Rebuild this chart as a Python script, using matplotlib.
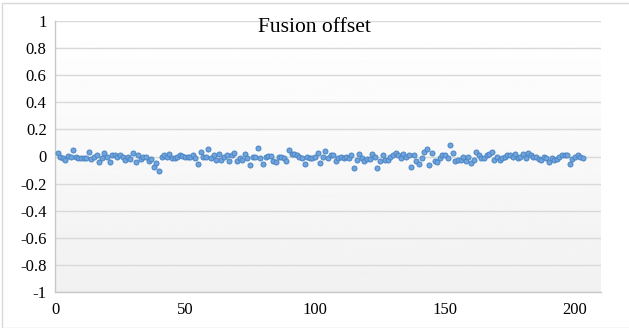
import matplotlib.pyplot as plt
import numpy as np
from matplotlib.patches import Rectangle

# wartosci (indeks 1..N)
offset = [
    0.025, 0, -0.013, -0.025, 0.005, 0, 0.05, 0, -0.008, -0.008,
    -0.008, -0.008, 0.033, -0.018, -0.003, 0.008, -0.038, -0.013, 0.025, -0.005,
    -0.038, 0.013, 0.013, -0.005, 0.013, -0.005, -0.025, 0, -0.018, 0.025,
    -0.043, 0.013, -0.018, -0.003, 0, -0.033, -0.018, -0.075, -0.05, -0.108,
    0, 0.008, 0, 0.018, -0.013, -0.013, 0, 0.013, 0.005, -0.003,
    -0.003, 0, 0.013, -0.008, -0.058, 0.03, -0.003, -0.003, 0.058, -0.008,
    0.008, -0.023, 0.018, -0.025, -0.003, 0.013, -0.033, 0.008, 0.025, -0.033,
    -0.008, -0.028, 0.018, -0.008, -0.063, 0, 0, 0.063, -0.008, -0.053,
    0, 0.003, 0.003, -0.03, -0.038, 0, -0.003, -0.013, -0.033, 0.045,
    0.018, 0.018, 0.008, 0, -0.013, -0.058, -0.003, -0.013, -0.008, -0.003,
    0.025,
    -0.045, 0, 0.038, -0.008, 0.008, 0.013, -0.033, -0.008, 0, -0.013,
    0, -0.008, 0.013, -0.083, -0.025, 0.018, -0.008, -0.033, -0.018, -0.018,
    0.018, 0, -0.083, -0.033, 0.013, -0.025, -0.025, 0, 0.013, 0.023,
    0.008, -0.008, 0.018, 0, 0.013, -0.075, 0.013, -0.033, -0.053, -0.008,
    0.033, 0.058, -0.063, 0.025, -0.033, -0.043, -0.008, 0.008, 0.008, -0.008,
    0.088, 0.025, -0.033, -0.025, -0.025, 0, -0.033, 0, -0.05, -0.025,
    0.033, 0.008, -0.008, -0.013, 0.013, 0.018, 0.033, -0.025, 0, -0.028,
    -0.013, 0, 0.013, 0.008, 0, 0.018, -0.008, 0, 0.018, -0.013,
    0.023, 0.008, 0, 0, -0.018, -0.023, 0, -0.013, -0.038, -0.013,
    -0.028, -0.018, 0, 0.013, 0.013, 0.013, -0.058, -0.018, 0, 0.008,
    0, -0.008,
]
x_ticks = [0, 50, 100, 150, 200]
y_ticks = [-1, -0.8, -0.6, -0.4, -0.2, 0, 0.2, 0.4, 0.6, 0.8, 1]
y_labels = ['-1', '-0.8', '-0.6', '-0.4', '-0.2', '0', '0.2', '0.4', '0.6', '0.8', '1']

plt.rcParams['font.family'] = ['Liberation Serif', 'DejaVu Serif']

fig = plt.figure(figsize=(6.29, 3.28), dpi=100)
ax = fig.add_axes([55 / 629, 1 - 292 / 328, (601 - 55) / 629, (292 - 21) / 328])

# tlo z gradientem (bialy -> jasnoszary)
grad = np.linspace(1.0, 0.945, 256).reshape(-1, 1)
ax.imshow(grad, extent=[0, 210, -1, 1], aspect='auto', cmap='gray',
          vmin=0, vmax=1, zorder=0, origin='upper')

x = np.arange(1, len(offset) + 1)
ax.plot(x, offset, linestyle='none', marker='o', markersize=3.6,
        markerfacecolor='#6fa3dc', markeredgecolor='#4a84c4', markeredgewidth=0.7,
        zorder=3)

ax.set_xlim(0, 210)
ax.set_ylim(-1, 1)
ax.set_xticks(x_ticks)
ax.set_yticks(y_ticks)
ax.set_yticklabels(y_labels)
ax.tick_params(length=0, labelsize=12, colors='black')
ax.tick_params(axis='x', pad=7)
ax.tick_params(axis='y', pad=6)
ax.grid(axis='y', color='#d9d9d9', linewidth=1.0, zorder=1)
ax.set_axisbelow(True)
for s in ['top', 'right']:
    ax.spines[s].set_visible(False)
for s in ['left', 'bottom']:
    ax.spines[s].set_color('#c8c8c8')
    ax.spines[s].set_linewidth(1.0)

fig.text(0.5, 1 - 28 / 328, 'Fusion offset', ha='center', va='center', fontsize=15.5)

# ramka wokol wykresu
fig.patches.append(Rectangle((2 / 629, 0), 1, 1 - 2.5 / 328, transform=fig.transFigure,
                             fill=False, edgecolor='#d9d9d9', linewidth=1.0))

fig.savefig('out.png', dpi=100)
